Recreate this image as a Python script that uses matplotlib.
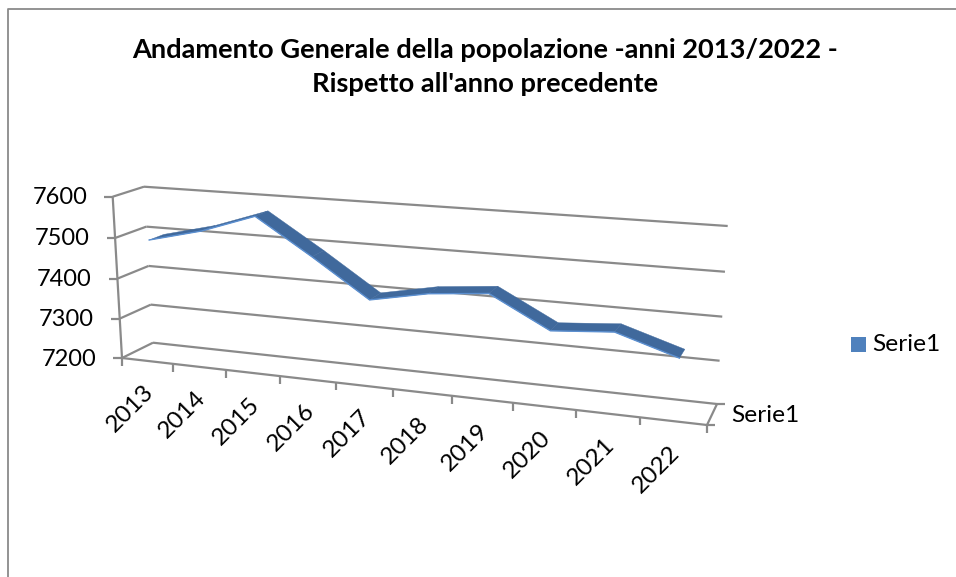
import numpy as np
import matplotlib
matplotlib.use('Agg')
import matplotlib.pyplot as plt

years = ['2013', '2014', '2015', '2016', '2017', '2018', '2019', '2020', '2021', '2022']
values = [7493, 7525, 7570, 7485, 7395, 7422, 7435, 7363, 7374, 7330]
y_ticks = [7200, 7300, 7400, 7500, 7600]
series_name = 'Serie1'
title = "Andamento Generale della popolazione -anni 2013/2022 -\nRispetto all'anno precedente"

GREY = '#8a8a8a'
TOP = '#40699c'
EDGE = '#5b8fd0'
plt.rcParams['font.family'] = ['Lato', 'DejaVu Sans']

# corners of the 3d box in pixels: bottom left, top left, bottom right, top right
FRONT = [(122, 358), (112.7, 196.7), (707, 425), (718, 240)]
BACK = [(153, 342.7), (144, 186.7), (717, 404), (727.7, 226)]


def homography(corners):
    src = [(0, 0), (0, 1), (1, 0), (1, 1)]
    A, b = [], []
    for (u, v), (x, y) in zip(src, corners):
        A.append([u, v, 1, 0, 0, 0, -u * x, -v * x])
        A.append([0, 0, 0, u, v, 1, -u * y, -v * y])
        b += [x, y]
    return np.append(np.linalg.solve(np.array(A), np.array(b)), 1).reshape(3, 3)


H_FRONT = homography(FRONT)
H_BACK = homography(BACK)


def project(cat, val, depth=0.0):
    # cat is in category units (0-10), val in axis units, depth 0 front 1 back
    cat = np.asarray(cat, dtype=float)
    val = np.asarray(val, dtype=float)
    u = cat / len(years)
    v = (val - y_ticks[0]) / (y_ticks[-1] - y_ticks[0])
    pts = np.stack([u, v, np.ones_like(u)])
    f = H_FRONT @ pts
    b = H_BACK @ pts
    f = f[:2] / f[2]
    b = b[:2] / b[2]
    return f + (b - f) * depth


fig = plt.figure(figsize=(9.56, 5.77), dpi=100)
ax = fig.add_axes([0, 0, 1, 1])
ax.set_xlim(0, 956)
ax.set_ylim(577, 0)
ax.axis('off')


def seg(p, q, z=2):
    ax.plot([p[0], q[0]], [p[1], q[1]], color=GREY, lw=1.6, zorder=z, solid_capstyle='butt')


# outer frame
ax.plot([8, 8, 956], [577, 8.7, 8.7], color=GREY, lw=1.3)

n = len(years)
# grid on back wall and left wall, y ticks
for val in y_ticks:
    front_l = project(0, val, 0)
    back_l = project(0, val, 1)
    back_r = project(n, val, 1)
    seg(front_l, back_l)
    seg(back_l, back_r)
    seg(front_l, (front_l[0] - 8.5, front_l[1]))
    ax.text(front_l[0] - 25.5, front_l[1] + 1, str(val), ha='right', va='center', fontsize=17, color='black')

# floor and axes
seg(project(0, y_ticks[0], 0), project(n, y_ticks[0], 0))
seg(project(0, y_ticks[0], 0), project(0, y_ticks[-1], 0))
seg(project(n, y_ticks[0], 0), project(n, y_ticks[0], 1))
for i in range(n + 1):
    p = project(i, y_ticks[0], 0)
    seg(p, (p[0], p[1] + 8))
for i, year in enumerate(years):
    p = project(i + 0.5, y_ticks[0], 0)
    ax.text(p[0] - 17, p[1] + 48, year, rotation=45, ha='center', va='center', fontsize=17.6, color='black')

# depth axis ticks and label
p0 = project(n, y_ticks[0], 0)
p1 = project(n, y_ticks[0], 1)
seg(p0, (p0[0] + 8, p0[1]))
seg(p1, (p1[0] + 8, p1[1]))
ax.text(p1[0] + 14, (p0[1] + p1[1]) / 2 + 1, series_name, ha='left', va='center', fontsize=17.6, color='black')

# ribbon
cats = np.arange(n) + 0.5
front_edge = project(cats, values, 0.26)
back_edge = project(cats, values, 0.74)
for i in range(n - 1):
    xs = [front_edge[0][i], front_edge[0][i + 1], back_edge[0][i + 1], back_edge[0][i]]
    ys = [front_edge[1][i], front_edge[1][i + 1], back_edge[1][i + 1], back_edge[1][i]]
    ax.fill(xs, ys, color=TOP, lw=0.3, zorder=4)
ax.plot(front_edge[0], front_edge[1], color=EDGE, lw=1.0, zorder=5, solid_joinstyle='round')

# title
ax.text(485, 67, title, ha='center', va='center', fontsize=19.6, fontweight='bold', color='black', linespacing=1.55)

# legend
ax.fill([851, 866, 866, 851], [337, 337, 352, 352], color='#4f81bd', lw=0)
ax.text(872, 344.5, series_name, ha='left', va='center', fontsize=17.6, color='black')

fig.savefig('out.png', dpi=100)
